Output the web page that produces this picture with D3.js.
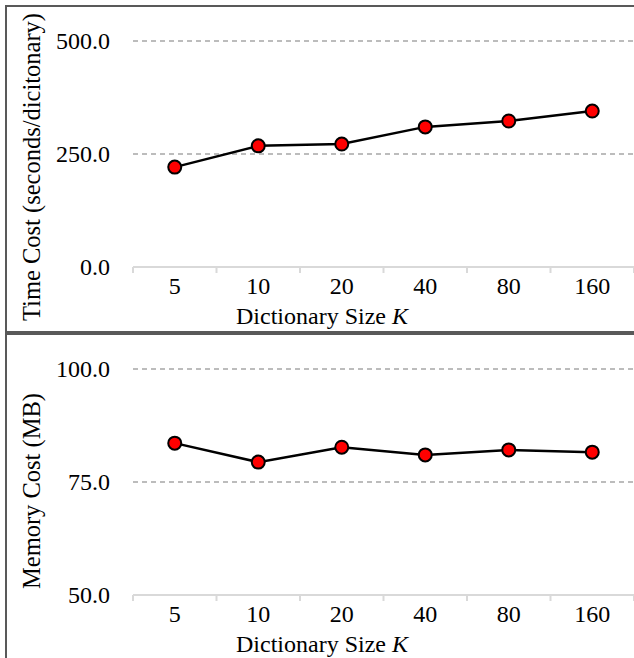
<!DOCTYPE html>
<html>
<head>
<meta charset="utf-8">
<script src="https://cdn.jsdelivr.net/npm/d3@7"></script>
<style>
  html, body { margin: 0; padding: 0; background: #fff; }
  svg { display: block; }
</style>
</head>
<body>
<svg id="chart" width="634" height="658"></svg>
<script>
const categories = ["5", "10", "20", "40", "80", "160"];
const timeValues = [221, 268, 272, 310, 323, 345];
const memoryValues = [83.6, 79.4, 82.7, 81.0, 82.1, 81.6];
const timeTicks = [0, 250, 500];
const memoryTicks = [50, 75, 100];

const svg = d3.select("#chart");
const FONT = 24;
const FAMILY = "Liberation Serif";

function txt(sel, size) {
  return sel.style("font-family", FAMILY).style("font-size", (size || FONT) + "px").attr("fill", "#000");
}

function panel(cfg) {
  const g = svg.append("g");
  g.append("rect")
    .attr("x", cfg.frame[0]).attr("y", cfg.frame[1])
    .attr("width", cfg.frame[2]).attr("height", cfg.frame[3])
    .attr("fill", "none").attr("stroke", "#595959").attr("stroke-width", 2);

  const x = d3.scaleBand().domain(categories).range([133, 634]);
  const y = d3.scaleLinear().domain(cfg.domain).range([cfg.bottom, cfg.top]);

  g.selectAll(".grid").data(cfg.ticks.slice(1)).join("line")
    .attr("x1", 133).attr("x2", 634)
    .attr("y1", d => y(d)).attr("y2", d => y(d))
    .attr("stroke", "#a6a6a6").attr("stroke-width", 1.3)
    .attr("stroke-dasharray", "5,4");

  txt(g.selectAll(".ylab").data(cfg.ticks).join("text"))
    .attr("x", 110).attr("y", d => y(d)).attr("dy", "0.35em")
    .attr("text-anchor", "end")
    .text(d => d.toFixed(1));

  g.append("line")
    .attr("x1", 133).attr("x2", 634)
    .attr("y1", y(cfg.domain[0])).attr("y2", y(cfg.domain[0]))
    .attr("stroke", "#d9d9d9").attr("stroke-width", 2);

  const bounds = categories.map(c => x(c)).concat([x(categories[categories.length - 1]) + x.bandwidth()]);
  g.selectAll(".xt").data(bounds).join("line")
    .attr("x1", d => d).attr("x2", d => d)
    .attr("y1", y(cfg.domain[0])).attr("y2", y(cfg.domain[0]) + 6)
    .attr("stroke", "#d9d9d9").attr("stroke-width", 2);

  txt(g.selectAll(".xlab").data(categories).join("text"))
    .attr("x", d => x(d) + x.bandwidth() / 2)
    .attr("y", y(cfg.domain[0]) + 27)
    .attr("text-anchor", "middle")
    .text(d => d);

  const xt = txt(g.append("text"))
    .attr("x", 322).attr("y", y(cfg.domain[0]) + 57)
    .attr("text-anchor", "middle");
  xt.append("tspan").text("Dictionary Size ");
  xt.append("tspan").style("font-style", "italic").text("K");

  txt(g.append("text"), 24.5)
    .attr("transform", `translate(40,${cfg.ytitleY}) rotate(-90)`)
    .attr("text-anchor", "middle")
    .text(cfg.ytitle);

  const line = d3.line()
    .x((d, i) => x(categories[i]) + x.bandwidth() / 2)
    .y(d => y(d));
  g.append("path").datum(cfg.values)
    .attr("d", line).attr("fill", "none")
    .attr("stroke", "#000").attr("stroke-width", 2.5);

  g.selectAll(".pt").data(cfg.values).join("circle")
    .attr("cx", (d, i) => x(categories[i]) + x.bandwidth() / 2)
    .attr("cy", d => y(d))
    .attr("r", 6.5)
    .attr("fill", "#ff0000").attr("stroke", "#000").attr("stroke-width", 2);
}

panel({
  frame: [6, 6, 700, 326],
  domain: [0, 500], ticks: timeTicks, top: 41, bottom: 267,
  values: timeValues, ytitle: "Time Cost (seconds/dicitonary)", ytitleY: 167
});
panel({
  frame: [6, 334, 700, 400],
  domain: [50, 100], ticks: memoryTicks, top: 369, bottom: 595,
  values: memoryValues, ytitle: "Memory Cost (MB)", ytitleY: 491
});
</script>
</body>
</html>
